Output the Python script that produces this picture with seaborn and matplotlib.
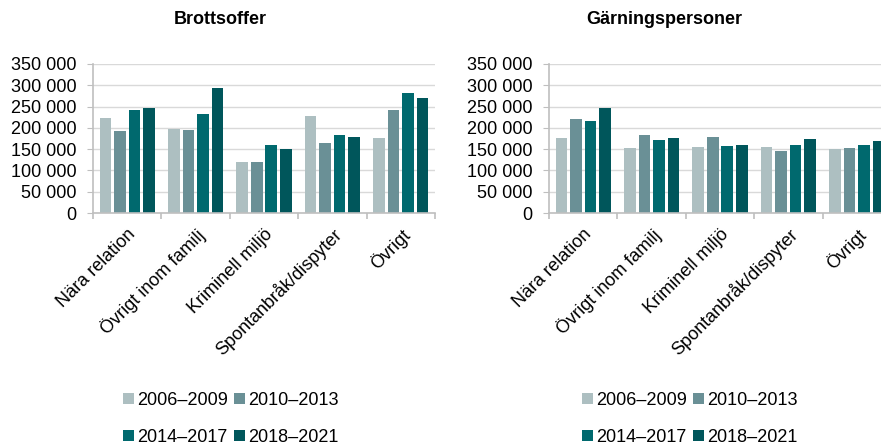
import matplotlib.pyplot as plt
import seaborn as sns
import pandas as pd
import numpy as np
from matplotlib.patches import Patch
from matplotlib.ticker import FuncFormatter

# data
categories = ["Nära relation", "Övrigt inom familj", "Kriminell miljö",
              "Spontanbråk/dispyter", "Övrigt"]
periods = ["2006–2009", "2010–2013", "2014–2017", "2018–2021"]

brottsoffer = {
    "2006–2009": [224000, 197000, 119000, 229000, 176000],
    "2010–2013": [193000, 195000, 120000, 164000, 242000],
    "2014–2017": [241000, 232000, 159000, 184000, 281000],
    "2018–2021": [246000, 293000, 151000, 178000, 271000],
}
garningspersoner = {
    "2006–2009": [176000, 153000, 155000, 154000, 151000],
    "2010–2013": [220000, 183000, 178000, 145000, 152000],
    "2014–2017": [216000, 171000, 158000, 160000, 159000],
    "2018–2021": [246000, 176000, 159000, 173000, 170000],
}
titles = ["Brottsoffer", "Gärningspersoner"]

colors = ["#adbfc1", "#6a9096", "#00696e", "#00565b"]


def to_long(d):
    rows = []
    for p in periods:
        for c, v in zip(categories, d[p]):
            rows.append({"kategori": c, "period": p, "antal": v})
    return pd.DataFrame(rows)


plt.rcParams["font.family"] = ["Liberation Sans", "DejaVu Sans"]
fig = plt.figure(figsize=(8.81, 4.45), dpi=100)

W, H = 881, 445
ax_left = [93, 549]
title_x = [220, 664]
legend_x = [231, 690]

for i, data in enumerate([brottsoffer, garningspersoner]):
    ax = fig.add_axes([ax_left[i] / W, (H - 213) / H, 342 / W, 149 / H])
    df = to_long(data)
    sns.barplot(data=df, x="kategori", y="antal", hue="period",
                hue_order=periods, palette=colors, width=0.85, gap=0.2,
                ax=ax, legend=False, saturation=1)
    ax.set_ylim(0, 350000)
    ax.set_xlim(-0.5, 4.5)
    ax.set_yticks(np.arange(0, 350001, 50000))
    ax.yaxis.set_major_formatter(FuncFormatter(lambda v, p: f"{int(v):,}".replace(",", " ")))
    ax.grid(axis="y", color="#d9d9d9", linewidth=1)
    ax.set_axisbelow(True)
    for s in ["top", "right"]:
        ax.spines[s].set_visible(False)
    for s in ["left", "bottom"]:
        ax.spines[s].set_color("#bfbfbf")
        ax.spines[s].set_linewidth(1.2)
    ax.set_xlabel("")
    ax.set_ylabel("")
    ax.tick_params(axis="y", labelsize=13, length=4, color="#bfbfbf", pad=8)
    ax.set_xticks(range(len(categories)))
    ax.set_xticklabels(categories, rotation=45, ha="right",
                       rotation_mode="anchor", fontsize=13)
    ax.tick_params(axis="x", length=0, pad=9)
    ax.set_xticks(np.arange(-0.5, 5, 1), minor=True)
    ax.tick_params(axis="x", which="minor", length=4, color="#bfbfbf", width=1.2)

    fig.text(title_x[i] / W, 1 - 20 / H, titles[i], ha="center", va="center",
             fontsize=13, fontweight="bold")

    # legend fills column-wise, so reorder to get rows 2006/2010 and 2014/2018
    order = [0, 2, 1, 3]
    handles = [Patch(facecolor=colors[k], edgecolor="none") for k in order]
    labels = [periods[k] for k in order]
    fig.legend(handles, labels, loc="center",
               bbox_to_anchor=(legend_x[i] / W, 1 - 419 / H), ncol=2,
               frameon=False, fontsize=13, handlelength=0.6, handleheight=0.6,
               handletextpad=0.2, columnspacing=0.3, labelspacing=1.1)

plt.savefig("out.png", dpi=100)
